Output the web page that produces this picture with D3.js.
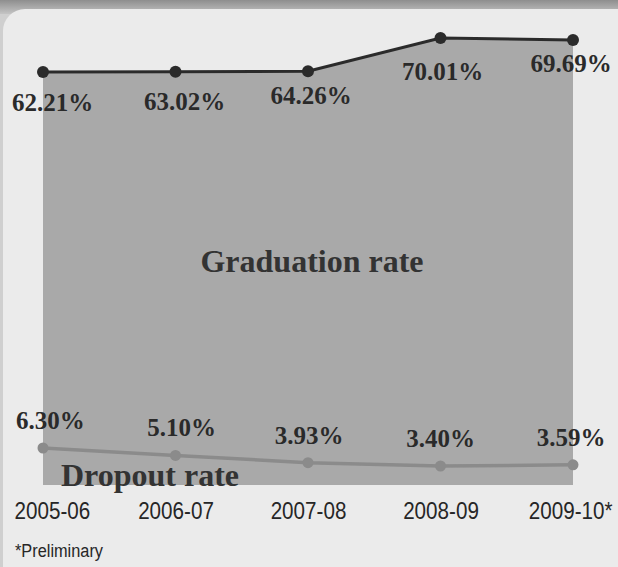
<!DOCTYPE html>
<html>
<head>
<meta charset="utf-8">
<script src="https://cdn.jsdelivr.net/npm/d3@7"></script>
<style>
  html, body { margin: 0; padding: 0; background: #c9c9c9; }
  svg { display: block; }
</style>
</head>
<body>
<svg id="chart" width="618" height="567"></svg>
<script>
// ---- data ----
const years = ["2005-06", "2006-07", "2007-08", "2008-09", "2009-10*"];
const graduationRate = [62.21, 63.02, 64.26, 70.01, 69.69];
const dropoutRate = [6.30, 5.10, 3.93, 3.40, 3.59];
const graduationLabels = ["62.21%", "63.02%", "64.26%", "70.01%", "69.69%"];
const dropoutLabels = ["6.30%", "5.10%", "3.93%", "3.40%", "3.59%"];
const footnote = "*Preliminary";

// ---- layout ----
const W = 618, H = 567;
const svg = d3.select("#chart");
const defs = svg.append("defs");
const grad = defs.append("linearGradient").attr("id", "topband").attr("x1", 0).attr("y1", 0).attr("x2", 0).attr("y2", 1);
grad.append("stop").attr("offset", "0%").attr("stop-color", "#8e8e8e");
grad.append("stop").attr("offset", "100%").attr("stop-color", "#c4c4c4");

svg.append("rect").attr("width", W).attr("height", H).attr("fill", "#cfcfcf");
svg.append("rect").attr("width", W).attr("height", 14).attr("fill", "url(#topband)");
svg.append("rect").attr("x", 3).attr("y", 9).attr("width", W + 40).attr("height", H + 40)
  .attr("rx", 22).attr("fill", "#ebebeb");

const x = d3.scalePoint().domain(years).range([43, 573]);
// stylised (not-to-scale) graduation axis, as in the original graphic
const yG = d3.scaleLinear().domain([60, 65, 70]).range([73, 71, 38]);
const yD = d3.scaleLinear().domain([3.4, 6.3]).range([466, 448]);
const baseY = 485;

const gData = years.map((y, i) => ({ year: y, v: graduationRate[i], label: graduationLabels[i] }));
const dData = years.map((y, i) => ({ year: y, v: dropoutRate[i], label: dropoutLabels[i] }));

// graduation area
svg.append("path").datum(gData)
  .attr("fill", "#a9a9a9")
  .attr("d", d3.area().x(d => x(d.year)).y0(baseY).y1(d => yG(d.v)));

// graduation line + points
svg.append("path").datum(gData)
  .attr("fill", "none").attr("stroke", "#2b2b2b").attr("stroke-width", 3)
  .attr("d", d3.line().x(d => x(d.year)).y(d => yG(d.v)));
svg.selectAll(".gpt").data(gData).join("circle")
  .attr("cx", d => x(d.year)).attr("cy", d => yG(d.v)).attr("r", 6).attr("fill", "#2b2b2b");

// dropout line + points
svg.append("path").datum(dData)
  .attr("fill", "none").attr("stroke", "#8b8b8b").attr("stroke-width", 3.5)
  .attr("d", d3.line().x(d => x(d.year)).y(d => yD(d.v)));
svg.selectAll(".dpt").data(dData).join("circle")
  .attr("cx", d => x(d.year)).attr("cy", d => yD(d.v)).attr("r", 5.5).attr("fill", "#8b8b8b");

const serif = "'Liberation Serif', 'Times New Roman', serif";
const sans = "'Liberation Sans', Arial, sans-serif";

function clampLeft(sel, minLeft) {
  sel.each(function () {
    const t = d3.select(this);
    const w = this.getComputedTextLength();
    const cx = +t.attr("x");
    if (cx - w / 2 < minLeft) t.attr("x", minLeft + w / 2);
  });
}

// value labels
const gDy = [39, 38, 33, 42, 32];
const gDx = [0, 9, 3, 2, -2];
svg.selectAll(".glab").data(gData).join("text")
  .attr("x", (d, i) => x(d.year) + gDx[i]).attr("y", (d, i) => yG(d.v) + gDy[i])
  .attr("text-anchor", "middle")
  .attr("font-family", serif).attr("font-weight", "bold").attr("font-size", 25)
  .attr("fill", "#2a2a2a").text(d => d.label)
  .call(clampLeft, 12);

const dDx = [0, 6, 1, 0, -2];
svg.selectAll(".dlab").data(dData).join("text")
  .attr("x", (d, i) => x(d.year) + dDx[i]).attr("y", d => yD(d.v) - 19)
  .attr("text-anchor", "middle")
  .attr("font-family", serif).attr("font-weight", "bold").attr("font-size", 25)
  .attr("fill", "#2a2a2a").text(d => d.label)
  .call(clampLeft, 16);

// series titles
svg.append("text").attr("x", 312).attr("y", 272).attr("text-anchor", "middle")
  .attr("font-family", serif).attr("font-weight", "bold").attr("font-size", 32)
  .attr("fill", "#333").text("Graduation rate");
svg.append("text").attr("x", 61).attr("y", 486)
  .attr("font-family", serif).attr("font-weight", "bold").attr("font-size", 32)
  .attr("fill", "#333").text("Dropout rate");

// x axis (category labels only), condensed sans
const squeeze = 0.86;
const xAxis = d3.axisBottom(x).tickSize(0).tickPadding(0);
const ax = svg.append("g").attr("transform", "translate(0,502)").call(xAxis);
ax.select(".domain").remove();
ax.selectAll(".tick text")
  .attr("font-family", sans).attr("font-size", 24).attr("fill", "#262626")
  .attr("dy", "0.71em").attr("y", 0)
  .attr("transform", `scale(${squeeze},1)`)
  .each(function (d) {
    const w = this.getComputedTextLength() * squeeze;
    const t = d3.select(this);
    const cx = x(d);
    if (cx - w / 2 < 14) t.attr("x", (14 + w / 2 - cx) / squeeze);
    if (cx + w / 2 > 612) t.attr("x", (612 - w / 2 - cx) / squeeze);
  });

// footnote
svg.append("text").attr("x", 15 / squeeze).attr("y", 557)
  .attr("transform", `scale(${squeeze},1)`)
  .attr("font-family", sans).attr("font-size", 19).attr("fill", "#262626")
  .text(footnote);
</script>
</body>
</html>
